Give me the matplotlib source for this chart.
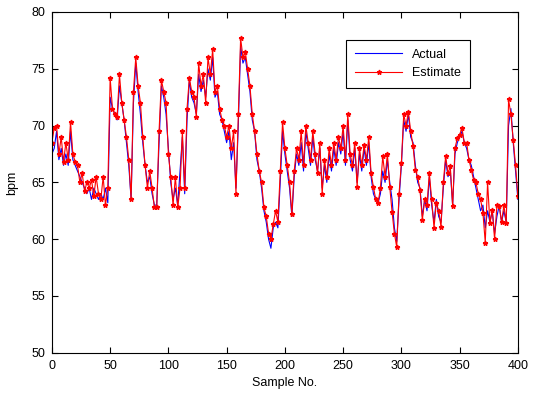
import numpy as np
import matplotlib
matplotlib.use("Agg")
import matplotlib.pyplot as plt

plt.rcParams['font.family'] = ['Liberation Sans', 'DejaVu Sans']

# heart rate, every 2nd sample (0..400)
actual = [
    67.5,
    68, 69.5, 67, 68, 66.5, 67.5, 66.5, 69.5, 67, 66.5,
    66, 65.5, 65, 64.5, 64, 64.5, 63.5, 64.5, 64, 63.5,
    64, 63.5, 64.5, 63.2, 72.5, 71.5, 71, 70.5, 73.5, 72,
    70.5, 68.5, 66.5, 63.5, 72, 75.5, 73, 71, 68.5, 66.5,
    65, 65.5, 64, 63, 63, 68.5, 73.5, 72.5, 71, 68,
    65, 63.5, 64.5, 63, 66, 69, 64, 70.5, 74, 72.5,
    72, 71, 74.5, 73, 74, 72.5, 75, 74, 76, 72.5,
    73, 71, 70.5, 69.5, 68.5, 69.5, 67, 68.5, 64.5, 70,
    77, 75.5, 76, 74.5, 73, 70.5, 69.5, 67, 66, 64.5,
    62.5, 61.5, 60, 59.2, 61, 61.5, 61, 65, 69.5, 67.5,
    66, 64.5, 62, 65.5, 67.5, 66.5, 68.5, 66, 69.5, 68,
    66.5, 69, 67, 66, 68, 64.5, 66.5, 65, 67.5, 66,
    68, 66.5, 68.5, 67.5, 69.5, 66.5, 70.5, 67, 66, 68,
    65, 67.5, 66, 68, 66.5, 68.5, 65.5, 64, 63.5, 63.2,
    64, 66, 65, 67, 65, 63.5, 61, 59.8, 63.5, 66.5,
    70.5, 69.5, 71, 69, 68.5, 66.5, 65, 64.5, 62, 63.5,
    62.5, 65.5, 63, 61.5, 63.5, 62, 61.5, 64.5, 67, 65.5,
    66, 63, 67.5, 68.5, 69, 69.5, 68.5, 68, 67, 66.5,
    65.5, 64.5, 63.5, 62.5, 63, 61, 62.5, 61.5, 62.5, 60.5,
    62, 63, 61.5, 62.5, 61.5, 70, 71.5, 68.5, 66, 63.5,
]

estimate = [
    68.5,
    69.8, 70, 67.5, 69, 66.8, 68.5, 67, 70.3, 67.5, 66.8,
    66.5, 65, 65.8, 64.2, 65, 64.5, 65.2, 63.8, 65.5, 64,
    63.5, 65.5, 63, 64.5, 74.2, 71.5, 71, 70.8, 74.5, 72,
    70.5, 69, 67, 63.5, 73, 76, 73.5, 72, 69, 66.5,
    64.5, 66, 64.5, 62.8, 62.8, 69.5, 74, 73, 72, 67.5,
    65.5, 63, 65.5, 62.8, 64.5, 69.5, 64.5, 71.5, 74.2, 73,
    72.5, 70.8, 75.5, 73.5, 74.5, 72, 76, 74.5, 76.7, 73,
    73.5, 71.5, 70.5, 70, 69, 70, 68, 69.5, 64, 71,
    77.7, 76, 76.5, 75, 73.5, 71, 69.5, 67.5, 66, 65,
    62.8, 62, 60.5, 60, 61.3, 62.5, 61.5, 66, 70.3, 68,
    66.5, 65, 62.2, 66, 68, 67, 69.5, 66.5, 70, 68.5,
    67, 69.5, 67.5, 65.8, 68.5, 64, 67, 65.5, 68, 66.5,
    68.5, 67, 69, 68, 70, 67, 71, 67.5, 66.5, 68.5,
    64.6, 68, 66.5, 68.3, 67, 69, 65.8, 64.6, 63.5, 63.2,
    64.5, 67.3, 65.5, 67.5, 64.6, 62.4, 60.5, 59.3, 64, 66.7,
    71, 70, 71.2, 69.5, 68.2, 66.1, 65.5, 64.3, 61.7, 63.5,
    63, 65.8, 63.5, 61, 63.2, 62.5, 61.1, 65, 67.3, 65.8,
    66.4, 62.9, 68, 68.9, 69.2, 69.8, 68.5, 68.5, 67, 66.1,
    65.2, 65, 64, 63.5, 62.3, 59.7, 65, 61.4, 62.6, 60,
    63, 62.9, 61.5, 63, 61.4, 72.3, 71, 68.7, 66.5, 63.8,
]

samples = np.arange(0, 401, 2)

fig = plt.figure(figsize=(5.35, 4.0), dpi=100)
ax = fig.add_axes([0.097, 0.118, 0.871, 0.852])

ax.plot(samples, actual, color=(0, 0, 1), lw=0.8, label='Actual')
ax.plot(samples, estimate, color='r', lw=0.8, marker='*', markersize=3.5,
        label='Estimate')

ax.set_xlim(0, 400)
ax.set_ylim(50, 80)
ax.set_xticks(range(0, 401, 50))
ax.set_yticks(range(50, 81, 5))
ax.tick_params(direction='in', top=True, right=True, labelsize=9, length=4,
               pad=5)
ax.set_xlabel('Sample No.', fontsize=9, labelpad=4)
ax.set_ylabel('bpm', fontsize=9, labelpad=9)

leg = ax.legend(loc='upper right', bbox_to_anchor=(0.897, 0.918), fontsize=9,
                fancybox=False, edgecolor='black', framealpha=1,
                handlelength=3.8, borderpad=0.7, borderaxespad=0)
leg.get_frame().set_linewidth(0.8)

fig.savefig('out.png', dpi=100)
